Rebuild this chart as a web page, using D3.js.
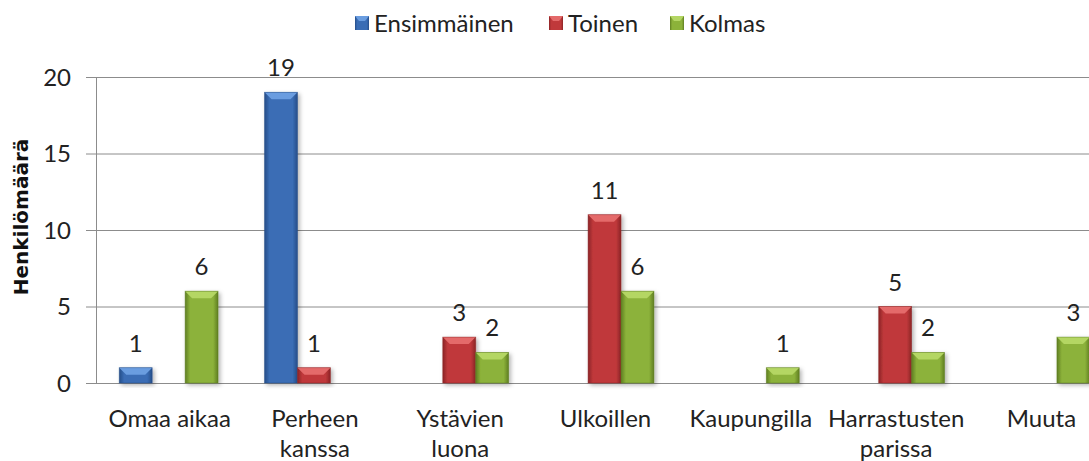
<!DOCTYPE html>
<html>
<head>
<meta charset="utf-8">
<script src="https://cdn.jsdelivr.net/npm/d3@7"></script>
<style>
  body { margin: 0; background: #fff; }
  svg { display: block; font-family: Lato, "Open Sans", sans-serif; }
</style>
</head>
<body>
<svg id="chart" width="1089" height="461"></svg>
<script>
const categories = [
  ["Omaa aikaa"],
  ["Perheen", "kanssa"],
  ["Ystävien", "luona"],
  ["Ulkoillen"],
  ["Kaupungilla"],
  ["Harrastusten", "parissa"],
  ["Muuta"]
];
const seriesNames = ["Ensimmäinen", "Toinen", "Kolmas"];
const ensimmainen = [1, 19, 0, 0, 0, 0, 0];
const toinen = [0, 1, 3, 11, 0, 5, 0];
const kolmas = [6, 0, 2, 6, 1, 2, 3];
const yTicks = [0, 5, 10, 15, 20];

const series = [ensimmainen, toinen, kolmas];
const colors = [
  { base: "#3a6db5", light: "#6a9de0", dark: "#254d88" },
  { base: "#c0393b", light: "#e46a6a", dark: "#8c2426" },
  { base: "#8cb23a", light: "#b4d664", dark: "#5f7e22" }
];

const svg = d3.select("#chart");
const plotLeft = 96, plotTop = 77, plotBottom = 383;
const step = 145.3;

const x = d3.scaleBand()
  .domain(d3.range(categories.length))
  .range([plotLeft, plotLeft + step * categories.length])
  .paddingInner(0.32)
  .paddingOuter(0.16);
const xs = d3.scaleBand().domain(d3.range(series.length)).range([0, x.bandwidth()]);
const y = d3.scaleLinear().domain([0, 20]).range([plotBottom, plotTop]);

// gradients
const defs = svg.append("defs");
colors.forEach((c, i) => {
  const g = defs.append("linearGradient").attr("id", "g" + i).attr("x1", 0).attr("x2", 1).attr("y1", 0).attr("y2", 0);
  g.append("stop").attr("offset", "0%").attr("stop-color", c.dark);
  g.append("stop").attr("offset", "15%").attr("stop-color", c.base);
  g.append("stop").attr("offset", "85%").attr("stop-color", c.base);
  g.append("stop").attr("offset", "100%").attr("stop-color", c.dark);
});
const sh = defs.append("filter").attr("id", "shadow").attr("x", "-20%").attr("y", "-20%").attr("width", "150%").attr("height", "150%");
sh.append("feDropShadow").attr("dx", 2).attr("dy", 2).attr("stdDeviation", 2).attr("flood-color", "#000").attr("flood-opacity", 0.3);

// grid
svg.append("g").selectAll("line").data(yTicks).join("line")
  .attr("x1", plotLeft - 10).attr("x2", 1089)
  .attr("y1", d => y(d) + 0.5).attr("y2", d => y(d) + 0.5)
  .attr("stroke", "#8c8c8c").attr("stroke-width", 1);

svg.append("line")
  .attr("x1", plotLeft + 0.5).attr("x2", plotLeft + 0.5)
  .attr("y1", plotTop).attr("y2", plotBottom)
  .attr("stroke", "#8c8c8c");

// y tick labels
svg.append("g").selectAll("text").data(yTicks).join("text")
  .attr("x", 71).attr("y", d => y(d))
  .attr("dy", "0.36em")
  .attr("text-anchor", "end")
  .attr("font-size", 24)
  .attr("fill", "#222")
  .text(d => d);

// y title
svg.append("text")
  .attr("transform", "translate(28,217) rotate(-90)")
  .attr("text-anchor", "middle")
  .attr("font-family", "DejaVu Sans, sans-serif")
  .attr("font-size", 20)
  .attr("font-weight", "bold")
  .attr("fill", "#111")
  .text("Henkilömäärä");

// bars
const bars = [];
series.forEach((vals, s) => vals.forEach((v, i) => { if (v > 0) bars.push({ s, i, v }); }));

const bg = svg.append("g").selectAll("g").data(bars).join("g")
  .attr("filter", "url(#shadow)");

bg.each(function (d) {
  const g = d3.select(this);
  const x0 = x(d.i) + xs(d.s), w = xs.bandwidth();
  const y0 = y(d.v), h = y(0) - y(d.v);
  const c = colors[d.s];
  const bev = Math.min(7, h / 2);
  g.append("rect").attr("x", x0).attr("y", y0).attr("width", w).attr("height", h)
    .attr("fill", `url(#g${d.s})`);
  g.append("polygon")
    .attr("points", [[x0, y0], [x0 + w, y0], [x0 + w - bev, y0 + bev], [x0 + bev, y0 + bev]].map(p => p.join(",")).join(" "))
    .attr("fill", c.light);
  g.append("rect").attr("x", x0).attr("y", y0).attr("width", w).attr("height", h)
    .attr("fill", "none").attr("stroke", c.dark).attr("stroke-width", 0.8).attr("stroke-opacity", 0.6);
});

// value labels
svg.append("g").selectAll("text").data(bars).join("text")
  .attr("x", d => x(d.i) + xs(d.s) + xs.bandwidth() / 2)
  .attr("y", d => y(d.v) - 16)
  .attr("text-anchor", "middle")
  .attr("font-size", 24)
  .attr("fill", "#222")
  .text(d => d.v);

// category labels
svg.append("g").selectAll("text").data(categories).join("text")
  .attr("x", (d, i) => x(i) + x.bandwidth() / 2 + 1)
  .attr("y", 427)
  .attr("text-anchor", "middle")
  .attr("font-size", 24)
  .attr("fill", "#222")
  .selectAll("tspan").data(d => d).join("tspan")
  .attr("x", function () { return d3.select(this.parentNode).attr("x"); })
  .attr("dy", (d, j) => j === 0 ? 0 : 30)
  .text(d => d);

// legend
const legendX = [355, 549, 670];
const lg = svg.append("g").selectAll("g").data(seriesNames).join("g")
  .attr("transform", (d, i) => `translate(${legendX[i]},16)`);
lg.append("rect").attr("width", 14).attr("height", 14).attr("fill", (d, i) => `url(#g${i})`);
lg.append("polygon").attr("points", "0,0 14,0 10,5 4,5").attr("fill", (d, i) => colors[i].light);
lg.append("text").attr("x", 19).attr("y", 7).attr("dy", "0.36em")
  .attr("font-size", 24).attr("fill", "#222").text(d => d);
</script>
</body>
</html>
